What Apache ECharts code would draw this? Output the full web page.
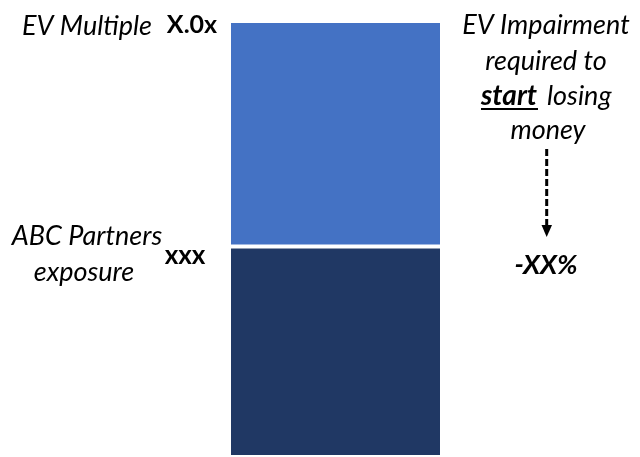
<!DOCTYPE html>
<html>
<head>
<meta charset="utf-8">
<script src="https://cdn.jsdelivr.net/npm/echarts@6/dist/echarts.min.js"></script>
<style>
  html, body { margin: 0; padding: 0; background: #ffffff; }
  #chart { width: 640px; height: 457px; }
</style>
</head>
<body>
<div id="chart"></div>
<script>
// Single stacked column: partner exposure at the bottom, EV cushion above it
const categories = ['EV'];
const exposureValues = [48.3];
const cushionValues = [51.7];

// Annotation texts
const multipleLabel = 'EV Multiple';
const multipleValue = 'X.0x';
const exposureLabel = ['ABC Partners', 'exposure'];
const exposureValue = 'xxx';
const impairmentLines = ['EV Impairment', 'required to', 'start', 'losing', 'money'];
const impairmentValue = '-XX%';

const FONT = 'Lato, "Open Sans", sans-serif';
const chart = echarts.init(document.getElementById('chart'));

const txt = (text, x, y, font, align) => ({
  type: 'text', x, y,
  style: { text, font: font + ' ' + FONT, fill: '#000', align: align || 'center', verticalAlign: 'middle' }
});
const IT = 'italic 27px';
const BD = 'bold 25px';

chart.setOption({
  animation: false,
  grid: { left: 229, width: 213, top: 21, bottom: -2 },
  xAxis: { type: 'category', data: categories, show: false },
  yAxis: { type: 'value', min: 0, max: 100, show: false },
  series: [
    {
      type: 'bar', stack: 'ev', data: exposureValues, barWidth: '100%',
      itemStyle: { color: '#203864', borderColor: '#ffffff', borderWidth: 2 }
    },
    {
      type: 'bar', stack: 'ev', data: cushionValues, barWidth: '100%',
      itemStyle: { color: '#4472C4', borderColor: '#ffffff', borderWidth: 2 }
    }
  ],
  graphic: [
    txt(multipleLabel, 87, 26, IT),
    txt(multipleValue, 192, 25, BD),
    txt(exposureLabel[0], 87, 236, IT),
    txt(exposureLabel[1], 84, 272, IT),
    txt(exposureValue, 185, 256, 'bold 26px'),
    txt(impairmentLines[0], 546, 25, IT),
    txt(impairmentLines[1], 546, 61, IT),
    txt(impairmentLines[2], 481, 96, 'italic bold 28px', 'left'),
    txt(impairmentLines[3], 547, 96, IT, 'left'),
    { type: 'line', shape: { x1: 481, y1: 109, x2: 538, y2: 109 }, style: { stroke: '#000', lineWidth: 2 } },
    txt(impairmentLines[4], 548, 130, IT),
    // dashed pointer from the note down to the impairment figure
    {
      type: 'line', shape: { x1: 546.7, y1: 149, x2: 546.7, y2: 226 },
      style: { stroke: '#000', lineWidth: 3, lineDash: [7, 3] }
    },
    { type: 'polygon', shape: { points: [[541.5, 225], [552, 225], [546.7, 237]] }, style: { fill: '#000' } },
    txt(impairmentValue, 546, 265, 'italic bold 27px')
  ]
});
</script>
</body>
</html>
